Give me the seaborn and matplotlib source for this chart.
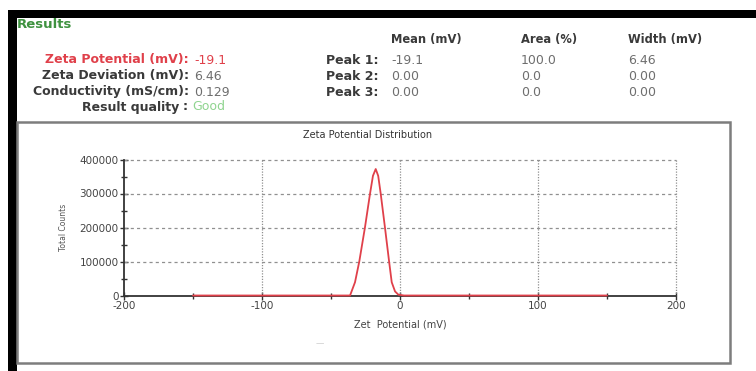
import matplotlib
matplotlib.use("Agg")
import matplotlib.pyplot as plt
from matplotlib.patches import Rectangle
from matplotlib.ticker import MultipleLocator, FuncFormatter
import seaborn as sns
import pandas as pd

# Zeta potential distribution (mV vs total counts)
zeta_mv = [-150, -36.2, -32.6, -29.5, -25.4, -21.7, -19.6, -17.6, -15.8,
           -14.0, -10.9, -7.9, -6.0, -3.6, -1.2, 3.0, 150]
total_counts = [0, 0, 39000, 100000, 200000, 300000, 352000, 372000, 352000,
                300000, 200000, 100000, 39000, 12000, 2500, 0, 0]

x_ticks = [-200, -100, 0, 100, 200]
y_ticks = [0, 100000, 200000, 300000, 400000]

summary_labels = ["Zeta Potential (mV):", "Zeta Deviation (mV):", "Conductivity (mS/cm):"]
summary_values = ["-19.1", "6.46", "0.129"]
peak_labels = ["Peak 1:", "Peak 2:", "Peak 3:"]
peak_headers = ["Mean (mV)", "Area (%)", "Width (mV)"]
peak_mean = ["-19.1", "0.00", "0.00"]
peak_area = ["100.0", "0.0", "0.0"]
peak_width = ["6.46", "0.00", "0.00"]
quality = "Good"

W, H = 756, 371
sns.set_theme(style="white")
plt.rcParams["font.family"] = ["DejaVu Sans"]

fig = plt.figure(figsize=(W / 100, H / 100), dpi=100)
fig.patch.set_facecolor("white")


def fx(px):
    return px / W


def fy(py):
    return 1 - py / H


def rect(x0, y0, x1, y1, **kw):
    fig.patches.append(Rectangle((fx(x0), fy(y1)), fx(x1) - fx(x0), fy(y0) - fy(y1),
                                 transform=fig.transFigure, zorder=-5, **kw))


# window frame
rect(8, 10, W, 18, facecolor="black", edgecolor="none")
rect(8, 10, 17, H, facecolor="black", edgecolor="none")
rect(17, 122, 730, 363, facecolor="white", edgecolor="#7d7d7d", lw=1.8)

dark = "#3a3a3a"
grey = "#6e6e6e"
red = "#e0404a"
lab_fs = 9
val_fs = 9

fig.text(fx(17), fy(25), "Results", color="#3f9240", fontsize=9.5,
         fontweight="bold", va="center", ha="left")

rows_y = [60, 76, 92]
for i, (lab, val) in enumerate(zip(summary_labels, summary_values)):
    c_lab = red if i == 0 else dark
    c_val = red if i == 0 else grey
    fig.text(fx(189), fy(rows_y[i]), lab, color=c_lab, fontsize=lab_fs,
             fontweight="bold", ha="right", va="center")
    fig.text(fx(194), fy(rows_y[i]), val, color=c_val, fontsize=val_fs,
             ha="left", va="center")

fig.text(fx(179), fy(107), "Result quality", color=dark, fontsize=lab_fs,
         fontweight="bold", ha="right", va="center")
fig.text(fx(185), fy(107), ":", color=dark, fontsize=lab_fs,
         fontweight="bold", ha="center", va="center")
fig.text(fx(192), fy(107), quality, color="#8fd48f", fontsize=val_fs,
         ha="left", va="center")

col_x = [391, 521, 628]
for hx, head in zip(col_x, peak_headers):
    fig.text(fx(hx), fy(40), head, color=dark, fontsize=8.3, fontweight="bold",
             ha="left", va="center")
for i, lab in enumerate(peak_labels):
    fig.text(fx(378), fy(rows_y[i]), lab, color=dark, fontsize=lab_fs,
             fontweight="bold", ha="right", va="center")
    for hx, col in zip(col_x, [peak_mean, peak_area, peak_width]):
        fig.text(fx(hx), fy(rows_y[i]), col[i], color=grey, fontsize=val_fs,
                 ha="left", va="center")

# distribution plot
ax = fig.add_axes([fx(124), fy(295.5), fx(676) - fx(124), fy(159.5) - fy(295.5)])
ax.set_facecolor("white")
df = pd.DataFrame({"Zeta potential (mV)": zeta_mv, "Total counts": total_counts})
sns.lineplot(data=df, x="Zeta potential (mV)", y="Total counts", ax=ax,
             color=red, lw=1.3, sort=False, zorder=5, clip_on=False)

ax.set_xlim(-200, 200)
ax.set_ylim(0, 400000)
ax.set_xticks(x_ticks)
ax.set_yticks(y_ticks)
ax.xaxis.set_minor_locator(MultipleLocator(50))
ax.yaxis.set_minor_locator(MultipleLocator(50000))
ax.yaxis.set_major_formatter(FuncFormatter(lambda v, p: f"{v:.0f}"))
ax.xaxis.set_major_formatter(FuncFormatter(lambda v, p: f"{v:.0f}"))

for s in ["top", "right"]:
    ax.spines[s].set_visible(False)
for s in ["left", "bottom"]:
    ax.spines[s].set_color("#333333")
    ax.spines[s].set_linewidth(1.3)

ax.tick_params(which="major", direction="inout", length=6, width=1.0,
               color="#333333", labelsize=7.5, labelcolor="#444444", pad=1,
               left=True, bottom=True)
ax.tick_params(which="minor", direction="inout", length=5, width=1.0,
               color="#333333", left=True, bottom=True)

for yv in y_ticks[1:]:
    ax.axhline(yv, color="#909090", lw=0.9, ls=(0, (2.5, 2.5)), zorder=1, clip_on=False)
for xv in x_ticks[1:]:
    ax.axvline(xv, color="#909090", lw=0.9, ls=(0, (1, 1.2)), zorder=1, clip_on=False)

ax.set_xlabel("Zet  Potential (mV)", fontsize=7, color="#444444", labelpad=6)
ax.set_ylabel("Total Counts", fontsize=5.5, color="#555555", labelpad=8)

fig.text(fx(368), fy(135), "Zeta Potential Distribution", fontsize=7,
         color="#333333", ha="center", va="center")
fig.text(fx(320), fy(344), "\u2014", fontsize=6, color="#cfcfcf",
         ha="center", va="center")

fig.savefig("out.png", dpi=100)
